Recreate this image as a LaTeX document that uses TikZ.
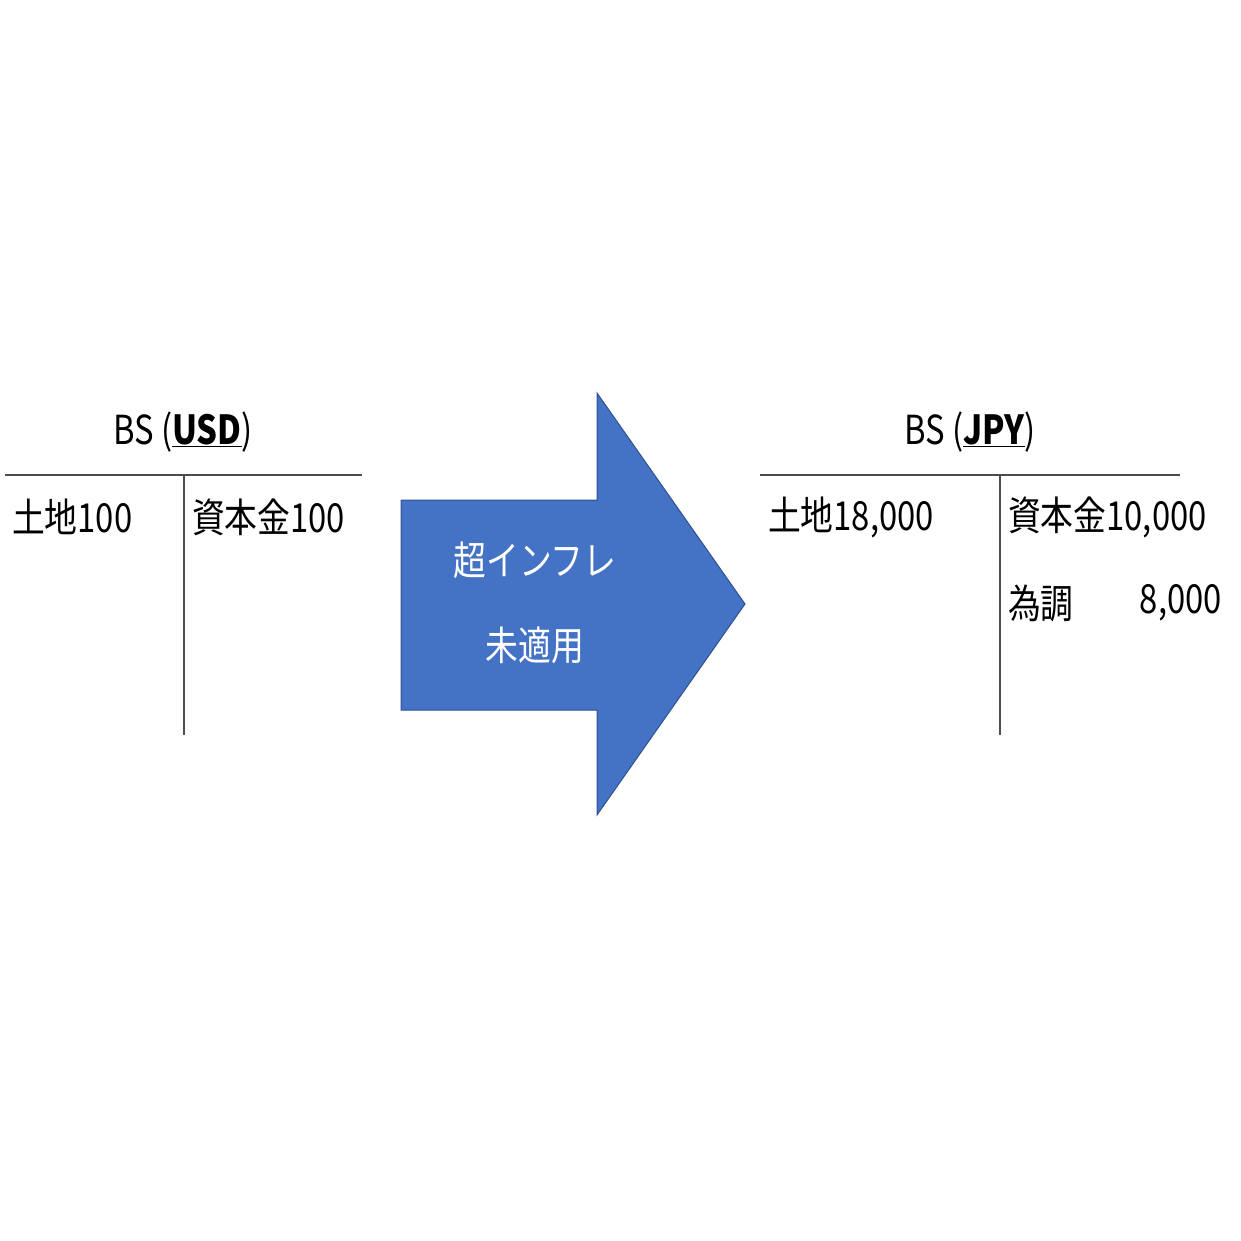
\documentclass[tikz,border=0pt]{standalone}
\usepackage{fontspec}
\setmainfont{Noto Sans CJK JP}
\begin{document}
\begin{tikzpicture}[x=1pt,y=-1pt,
  t/.style={inner sep=0pt,font=\fontsize{40}{40}\selectfont,xscale=0.82},
  ln/.style={line width=1.2pt,black!70}]
\useasboundingbox (0,0) rectangle (1241,1241);
% left T
\coordinate (l1) at (5,475); \coordinate (l2) at (362,475);
\coordinate (l3) at (184,475); \coordinate (l4) at (184,735);
\draw[ln] (l1)--(l2); \draw[ln] (l3)--(l4);
\node[t] (lt) at (183,432) {BS (\underline{\textbf{USD}})};
\node[t,anchor=west] (la) at (12,517) {土地100};
\node[t,anchor=west] (lb) at (192,517) {資本金100};
% arrow
\draw[fill=blue!0!black!0,fill={rgb,255:red,68;green,114;blue,196},draw={rgb,255:red,47;green,82;blue,143},line width=1pt]
 (401,500)--(597,500)--(597,393)--(745,604)--(597,815)--(597,710)--(401,710)--cycle;
\node[t,text=white] (a1) at (535,560) {超インフレ};
\node[t,text=white] (a2) at (535,645) {未適用};
% right T
\coordinate (r1) at (760,475); \coordinate (r2) at (1180,475);
\coordinate (r3) at (1000,475); \coordinate (r4) at (1000,735);
\draw[ln] (r1)--(r2); \draw[ln] (r3)--(r4);
\node[t] (rt) at (970,432) {BS (\underline{\textbf{JPY}})};
\node[t,anchor=west] (ra) at (768,517) {土地18,000};
\node[t,anchor=west] (rb) at (1008,517) {資本金10,000};
\node[t,anchor=west] (rc) at (1008,603) {為調};
\node[t,anchor=east] (rd) at (1222,603) {8,000};
\end{tikzpicture}
\end{document}
